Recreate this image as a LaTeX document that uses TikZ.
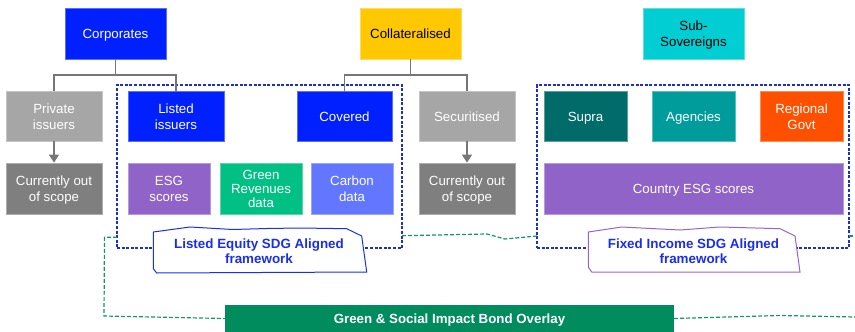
\documentclass[tikz,border=0pt]{standalone}
\usepackage{fontspec}
\setmainfont{Liberation Sans}
\usetikzlibrary{arrows.meta}
\definecolor{cCorp}{RGB}{0,32,255}
\definecolor{cColl}{RGB}{255,200,0}
\definecolor{cSubs}{RGB}{0,206,210}
\definecolor{cPriv}{RGB}{166,166,166}
\definecolor{cOut}{RGB}{127,127,127}
\definecolor{cEsg}{RGB}{144,99,201}
\definecolor{cGrev}{RGB}{0,192,132}
\definecolor{cCarb}{RGB}{98,118,255}
\definecolor{cSupra}{RGB}{0,107,104}
\definecolor{cAgen}{RGB}{0,155,155}
\definecolor{cReg}{RGB}{255,80,0}
\definecolor{cBar}{RGB}{0,140,92}
\definecolor{cLine}{RGB}{118,118,118}
\definecolor{cFrame}{RGB}{28,47,200}
\definecolor{cGreenDash}{RGB}{20,150,100}
\definecolor{cLabBlue}{RGB}{26,46,240}
\definecolor{cLabPurple}{RGB}{150,100,210}
\newcommand\bx[2][1]{\renewcommand\arraystretch{#1}\raisebox{0pt}[\dimexpr\height+4.4pt\relax][\depth]{\begin{tabular}{@{}c@{}}#2\end{tabular}}}
\tikzset{
  box/.style={fill=#1, draw=#1!65!white, line width=0.7pt, inner sep=0pt,
    font=\fontsize{13.3}{16}\selectfont, text=white},
  frame/.style={draw=cFrame, dashed, dash pattern=on 3pt off 1.6pt, line width=1.1pt, inner sep=0pt},
  gdash/.style={draw=cGreenDash, dash pattern=on 4pt off 2pt, line width=1.2pt},
  conn/.style={draw=cLine, line width=1.4pt},
  arr/.style={conn, -{Triangle[length=8pt,width=10pt]}},
  lab/.style={align=center, font=\bfseries\fontsize{13.4}{15}\selectfont, text=cLabBlue, inner sep=0pt}
}
\begin{document}
\begin{tikzpicture}[x=1pt,y=-1pt]
\useasboundingbox (0,0) rectangle (855,332);
% frames
\node[frame, minimum width=285pt, minimum height=163pt] (frameA) at (259.5,166.5) {};
\node[frame, minimum width=312pt, minimum height=163pt] (frameB) at (693,166.5) {};
% top row
\node[box=cCorp, minimum width=101pt, minimum height=51pt] (corp) at (115.5,33.5) {\bx{Corporates}};
\node[box=cColl, text=black, minimum width=101pt, minimum height=51pt] (coll) at (410.5,33.5) {\bx{Collateralised}};
\node[box=cSubs, text=black, minimum width=101pt, minimum height=51pt] (subs) at (693.5,33.5) {\bx{Sub-\\Sovereigns}};
% second row
\node[box=cPriv, minimum width=96pt, minimum height=50pt] (priv) at (54,116) {\bx{Private\\issuers}};
\node[box=cCorp, minimum width=96pt, minimum height=50pt] (list) at (176,116) {\bx{Listed\\issuers}};
\node[box=cCorp, minimum width=95pt, minimum height=50pt] (cov) at (344.5,116) {\bx{Covered}};
\node[box=cPriv, minimum width=96pt, minimum height=50pt] (sec) at (467,116) {\bx{Securitised}};
\node[box=cSupra, minimum width=83pt, minimum height=50pt] (supra) at (585.5,116) {\bx{Supra}};
\node[box=cAgen, minimum width=83pt, minimum height=50pt] (agen) at (693.5,116) {\bx{Agencies}};
\node[box=cReg, minimum width=83pt, minimum height=50pt] (reg) at (801.5,116) {\bx{Regional\\Govt}};
% third row
\node[box=cOut, minimum width=96pt, minimum height=51pt] (out1) at (54,188.5) {\bx{Currently out\\of scope}};
\node[box=cEsg, minimum width=82pt, minimum height=51pt] (esg) at (169,188.5) {\bx{ESG\\scores}};
\node[box=cGrev, minimum width=82pt, minimum height=51pt] (grev) at (261,188.5) {\bx[0.9]{Green\\Revenues\\data}};
\node[box=cCarb, minimum width=82pt, minimum height=51pt] (carb) at (352,188.5) {\bx{Carbon\\data}};
\node[box=cOut, minimum width=96pt, minimum height=51pt] (out2) at (467,188.5) {\bx{Currently out\\of scope}};
\node[box=cEsg, minimum width=299pt, minimum height=51pt] (cesg) at (693.5,188.5) {\bx{Country ESG scores}};
% connectors
\coordinate (jA) at (115.5,75);
\coordinate (jB) at (410.5,75);
\draw[conn] (corp.south) -- (jA);
\draw[conn] (jA) -| (priv.north);
\draw[conn] (jA) -| (list.north);
\draw[conn] (coll.south) -- (jB);
\draw[conn] (jB) -| (cov.north);
\draw[conn] (jB) -| (sec.north);
\draw[arr] (priv.south) -- (out1.north);
\draw[arr] (sec.south) -- (out2.north);
% green bar
\node[fill=cBar, minimum width=449pt, minimum height=27pt, inner sep=0pt, text=white,
  font=\bfseries\fontsize{13.3}{16}\selectfont] (bar) at (449.5,318.5) {\bx{Green \& Social Impact Bond Overlay}};
% green dashed overlay line
\coordinate (g1) at (117,237.3);
\coordinate (g2) at (402,235.7);
\coordinate (g3) at (537,236);
\coordinate (g4) at (849,236);
\draw[gdash] (g1) -- (104.5,237.3) -- (104,316) -- (bar.west);
\draw[gdash] (g2) -- (487,234) -- (505,239) -- (g3);
\draw[gdash] (g4) -- (855,236);
\draw[gdash] (bar.east) -- (780,315.5) -- (855,317);
% labels
\draw[draw=cLabBlue, line width=1pt, fill=white] (153.3,232) -- (190,227) -- (233,229.5) -- (267,228.5) -- (300,228) -- (346.7,228.7) -- (361.7,236) -- (366.7,272) -- (156.7,273) -- (153.3,268.7) -- cycle;
\node[lab] (labA) at (259,251) {Listed Equity SDG Aligned\\framework};
\draw[draw=cLabPurple, line width=1pt, fill=white] (588.3,232) -- (621.7,227) -- (680,230) -- (720,227) -- (780,228.7) -- (795,236) -- (800,272) -- (591.7,272) -- (588.3,267) -- cycle;
\node[lab] (labB) at (693.5,251) {Fixed Income SDG Aligned\\framework};
\end{tikzpicture}
\end{document}
